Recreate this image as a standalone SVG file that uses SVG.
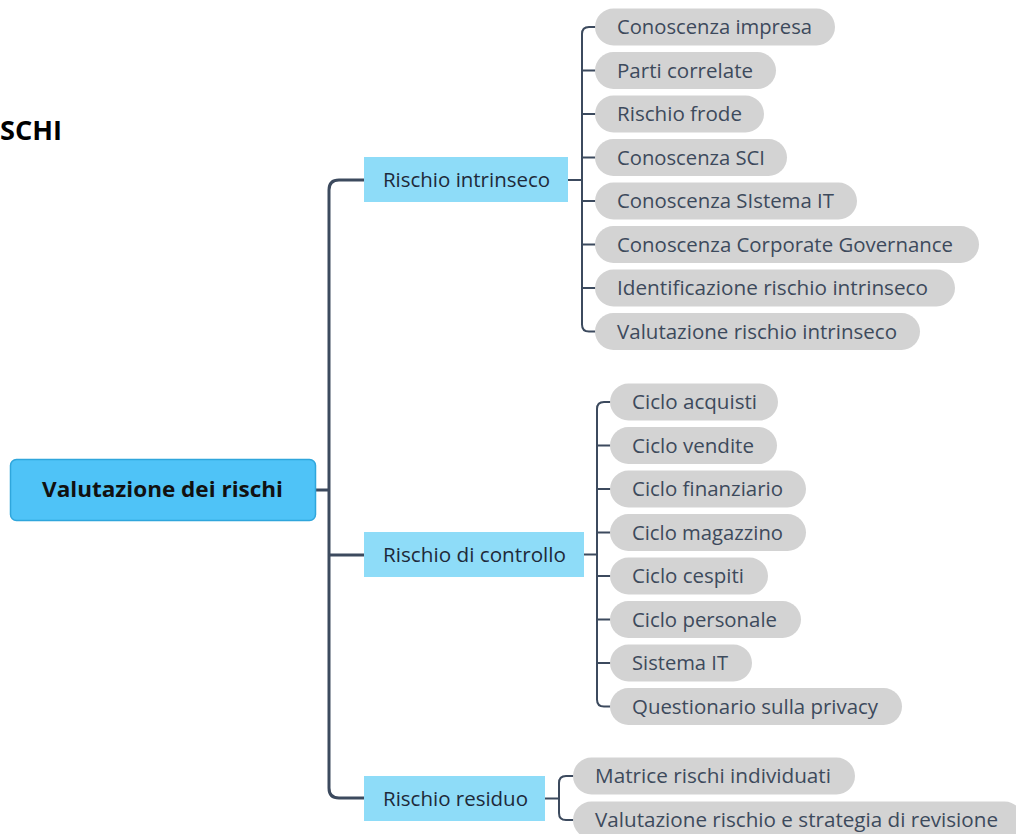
<svg xmlns="http://www.w3.org/2000/svg" width="1016" height="834" viewBox="0 0 1016 834">
<style>
.pill{fill:#d3d3d3}
.pt{font-family:"Open Sans","DejaVu Sans",sans-serif;font-size:19.5px;fill:#3d4a5c}
.sub{fill:#8edcf8}
.st{font-family:"Open Sans","DejaVu Sans",sans-serif;font-size:20px;fill:#1e2a3a;text-anchor:start}
.ln{fill:none;stroke:#3c4a5e;stroke-width:2;stroke-linecap:round}
.tr{fill:none;stroke:#3c4a5e;stroke-width:3;stroke-linecap:round}
</style>
<rect width="1016" height="834" fill="#ffffff"/>
<text x="0" y="140" font-family="'Open Sans','DejaVu Sans',sans-serif" font-size="26.5" font-weight="700" fill="#000" textLength="62" lengthAdjust="spacingAndGlyphs">SCHI</text>

<g id="connectors">
<path class="tr" d="M316,490 H329 M364,180 H339 Q329,180 329,190 V788 Q329,798 339,798 H364 M329,555 H364"/>
<path class="ln" d="M568,180 H582 M595,27 H589 Q582,27 582,34 V324.5 Q582,331.5 589,331.5 H595 M582,70.5 H595 M582,114 H595 M582,157.5 H595 M582,201 H595 M582,244.5 H595 M582,288 H595"/>
<path class="ln" d="M584,554.5 H597 M610,402 H604 Q597,402 597,409 V699.5 Q597,706.5 604,706.5 H610 M597,445.5 H610 M597,489 H610 M597,532.5 H610 M597,576 H610 M597,619.5 H610 M597,663 H610"/>
<path class="ln" d="M545,798.5 H559 M573,776 H566 Q559,776 559,783 V813 Q559,820 566,820 H573"/>
</g>

<g id="root">
<rect x="10.5" y="459.5" width="305" height="61" rx="6" fill="#4fc3f7" stroke="#2fa6dc" stroke-width="1.5"/>
<text x="42" y="497" font-family="'Open Sans','DejaVu Sans',sans-serif" font-size="21.5" font-weight="700" fill="#111" textLength="241" lengthAdjust="spacingAndGlyphs">Valutazione dei rischi</text>
</g>

<g id="rischio-intrinseco">
<rect class="sub" x="364" y="157" width="204" height="45"/>
<text class="st" x="383" y="187" textLength="167" lengthAdjust="spacingAndGlyphs">Rischio intrinseco</text>
</g>
<g id="rischio-controllo">
<rect class="sub" x="364" y="532" width="220" height="45"/>
<text class="st" x="383" y="562" textLength="183" lengthAdjust="spacingAndGlyphs">Rischio di controllo</text>
</g>
<g id="rischio-residuo">
<rect class="sub" x="364" y="776" width="181" height="45"/>
<text class="st" x="383" y="806" textLength="145" lengthAdjust="spacingAndGlyphs">Rischio residuo</text>
</g>

<g id="i1"><rect class="pill" x="595" y="8.5" width="240" height="37" rx="18.5"/><text class="pt" x="617" y="34" textLength="195" lengthAdjust="spacingAndGlyphs">Conoscenza impresa</text></g>
<g id="i2"><rect class="pill" x="595" y="52" width="181" height="37" rx="18.5"/><text class="pt" x="617" y="77.5" textLength="136" lengthAdjust="spacingAndGlyphs">Parti correlate</text></g>
<g id="i3"><rect class="pill" x="595" y="95.5" width="169" height="37" rx="18.5"/><text class="pt" x="617" y="121" textLength="125" lengthAdjust="spacingAndGlyphs">Rischio frode</text></g>
<g id="i4"><rect class="pill" x="595" y="139" width="192" height="37" rx="18.5"/><text class="pt" x="617" y="164.5" textLength="148" lengthAdjust="spacingAndGlyphs">Conoscenza SCI</text></g>
<g id="i5"><rect class="pill" x="595" y="182.5" width="262" height="37" rx="18.5"/><text class="pt" x="617" y="208" textLength="217" lengthAdjust="spacingAndGlyphs">Conoscenza SIstema IT</text></g>
<g id="i6"><rect class="pill" x="595" y="226" width="384" height="37" rx="18.5"/><text class="pt" x="617" y="251.5" textLength="336" lengthAdjust="spacingAndGlyphs">Conoscenza Corporate Governance</text></g>
<g id="i7"><rect class="pill" x="595" y="269.5" width="360" height="37" rx="18.5"/><text class="pt" x="617" y="295" textLength="311" lengthAdjust="spacingAndGlyphs">Identificazione rischio intrinseco</text></g>
<g id="i8"><rect class="pill" x="595" y="313" width="325" height="37" rx="18.5"/><text class="pt" x="617" y="338.5" textLength="280" lengthAdjust="spacingAndGlyphs">Valutazione rischio intrinseco</text></g>

<g id="c1"><rect class="pill" x="610" y="383.5" width="168" height="37" rx="18.5"/><text class="pt" x="632" y="409" textLength="125" lengthAdjust="spacingAndGlyphs">Ciclo acquisti</text></g>
<g id="c2"><rect class="pill" x="610" y="427" width="167" height="37" rx="18.5"/><text class="pt" x="632" y="452.5" textLength="122" lengthAdjust="spacingAndGlyphs">Ciclo vendite</text></g>
<g id="c3"><rect class="pill" x="610" y="470.5" width="196" height="37" rx="18.5"/><text class="pt" x="632" y="496" textLength="151" lengthAdjust="spacingAndGlyphs">Ciclo finanziario</text></g>
<g id="c4"><rect class="pill" x="610" y="514" width="196" height="37" rx="18.5"/><text class="pt" x="632" y="539.5" textLength="151" lengthAdjust="spacingAndGlyphs">Ciclo magazzino</text></g>
<g id="c5"><rect class="pill" x="610" y="557.5" width="158" height="37" rx="18.5"/><text class="pt" x="632" y="583" textLength="112" lengthAdjust="spacingAndGlyphs">Ciclo cespiti</text></g>
<g id="c6"><rect class="pill" x="610" y="601" width="191" height="37" rx="18.5"/><text class="pt" x="632" y="626.5" textLength="145" lengthAdjust="spacingAndGlyphs">Ciclo personale</text></g>
<g id="c7"><rect class="pill" x="610" y="644.5" width="142" height="37" rx="18.5"/><text class="pt" x="632" y="670" textLength="96" lengthAdjust="spacingAndGlyphs">Sistema IT</text></g>
<g id="c8"><rect class="pill" x="610" y="688" width="292" height="37" rx="18.5"/><text class="pt" x="632" y="713.5" textLength="246" lengthAdjust="spacingAndGlyphs">Questionario sulla privacy</text></g>

<g id="r1"><rect class="pill" x="573" y="757.5" width="282" height="37" rx="18.5"/><text class="pt" x="595" y="783" textLength="236" lengthAdjust="spacingAndGlyphs">Matrice rischi individuati</text></g>
<g id="r2"><rect class="pill" x="573" y="801.5" width="450" height="37" rx="18.5"/><text class="pt" x="595" y="827" textLength="403" lengthAdjust="spacingAndGlyphs">Valutazione rischio e strategia di revisione</text></g>
</svg>
